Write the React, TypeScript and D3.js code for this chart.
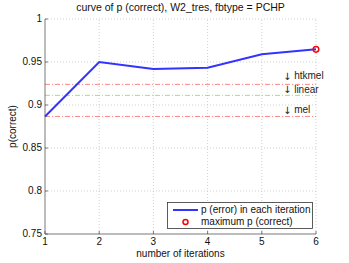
import React from "react";
import * as d3 from "d3";

const iterations = [1, 2, 3, 4, 5, 6];
const pCorrect = [0.8867, 0.95, 0.942, 0.9434, 0.959, 0.9647];
const refNames = ["htkmel", "linear", "mel"];
const refValues = [0.924, 0.9112, 0.8867];
const refColors = ["#ff6666", "#88dd55", "#ff6666"];
const yTicks = [0.75, 0.8, 0.85, 0.9, 0.95, 1];
const yTickLabels = ["0.75", "0.8", "0.85", "0.9", "0.95", "1"];
const xTicks = [1, 2, 3, 4, 5, 6];

const W = 349, H = 263;
const M = { left: 45, right: 33, top: 19, bottom: 29 };
const FONT = "'Liberation Sans', Arial, sans-serif";
const FS = 10;

export default function App() {
  const x = d3.scaleLinear().domain([1, 6]).range([M.left, W - M.right]);
  const y = d3.scaleLinear().domain([0.75, 1]).range([H - M.bottom, M.top]);
  const line = d3.line<number>().x((_, i) => x(iterations[i])).y((d) => y(d));
  const maxIdx = pCorrect.indexOf(d3.max(pCorrect) as number);
  const x0 = x(1), x1 = x(6), y0 = y(0.75), y1 = y(1);
  const labelYs = [y(refValues[0]) - 7.6, y(refValues[1]) - 5.4, y(refValues[2]) - 5.8];
  return (
    <svg width={W} height={H} style={{ position: "absolute", left: 0, top: 0, background: "#fff" }} fontFamily={FONT}>
      <rect x={0} y={0} width={W} height={H} fill="#fff" />
      {xTicks.slice(1).map((t) => (
        <line key={"gx" + t} x1={x(t)} x2={x(t)} y1={y0} y2={y1} stroke="#bbb" strokeWidth={0.7} strokeDasharray="1,2" />
      ))}
      {yTicks.slice(1).map((t) => (
        <line key={"gy" + t} x1={x0} x2={x1} y1={y(t)} y2={y(t)} stroke="#bbb" strokeWidth={0.7} strokeDasharray="1,2" />
      ))}
      {refValues.map((v, i) => (
        <line key={"r" + i} x1={x0} x2={x1} y1={y(v)} y2={y(v)} stroke={refColors[i]} strokeWidth={0.8} strokeDasharray="5,2,1,2" />
      ))}
      {refNames.map((n, i) => (
        <text key={"rl" + i} x={283} y={labelYs[i]} fontSize={FS} fill="#222" dominantBaseline="middle">
          <tspan fontFamily="'DejaVu Sans', sans-serif">{"\u2193"}</tspan>
          {" " + n}
        </text>
      ))}
      <line x1={x0} x2={x0} y1={y0} y2={y1} stroke="#555" strokeWidth={0.8} />
      <line x1={x0} x2={x1} y1={y0} y2={y0} stroke="#555" strokeWidth={0.8} />
      {yTicks.map((t, i) => (
        <g key={"yt" + t}>
          <line x1={x0} x2={x0 + 3} y1={y(t)} y2={y(t)} stroke="#555" strokeWidth={0.8} />
          <text x={x0 - 3} y={y(t)} fontSize={FS} textAnchor="end" dominantBaseline="middle" fill="#111">
            {yTickLabels[i]}
          </text>
        </g>
      ))}
      {xTicks.map((t) => (
        <g key={"xt" + t}>
          <line x1={x(t)} x2={x(t)} y1={y0} y2={y0 - 3} stroke="#555" strokeWidth={0.8} />
          <text x={x(t)} y={y0 + 11} fontSize={FS} textAnchor="middle" fill="#111">
            {t}
          </text>
        </g>
      ))}
      <path d={line(pCorrect) || ""} fill="none" stroke="#3333ff" strokeWidth={2} />
      <circle cx={x(iterations[maxIdx])} cy={y(pCorrect[maxIdx])} r={2.8} fill="none" stroke="#ff0000" strokeWidth={1.5} />
      <text x={(x0 + x1) / 2} y={11} fontSize={10.5} textAnchor="middle" fill="#111">
        curve of p (correct), W2_tres, fbtype = PCHP
      </text>
      <text x={(x0 + x1) / 2} y={257} fontSize={FS} textAnchor="middle" fill="#111">
        number of iterations
      </text>
      <text transform={`translate(16,${(y0 + y1) / 2}) rotate(-90)`} fontSize={FS} textAnchor="middle" fill="#111">
        p(correct)
      </text>
      <rect x={167.5} y={202.5} width={145} height={26} fill="#fff" stroke="#333" strokeWidth={0.8} />
      <line x1={173} x2={198} y1={210} y2={210} stroke="#3333ff" strokeWidth={2} />
      <text x={201} y={210} fontSize={FS} dominantBaseline="middle" fill="#111">p (error) in each iteration</text>
      <circle cx={185.5} cy={222} r={2.5} fill="none" stroke="#ff0000" strokeWidth={1.5} />
      <text x={201} y={222} fontSize={FS} dominantBaseline="middle" fill="#111">maximum p (correct)</text>
    </svg>
  );
}
